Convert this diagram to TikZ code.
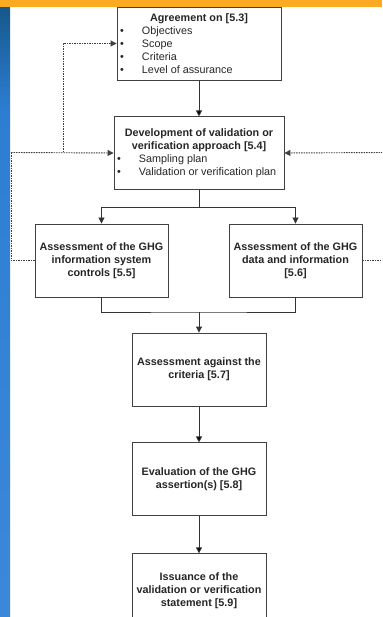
\documentclass[tikz,border=0pt]{standalone}
\usepackage{fontspec}
\setmainfont{Liberation Sans}
\usetikzlibrary{arrows.meta,positioning}

\definecolor{barorange}{RGB}{251,170,34}
\definecolor{stripdark}{RGB}{22,88,140}
\definecolor{stripmid}{RGB}{45,126,210}
\definecolor{striplight}{RGB}{60,136,216}

\newcommand{\bul}[1]{\makebox[22pt][l]{\textbullet}#1}

\tikzset{
    stage/.style={draw=black!75, line width=0.9pt, fill=white, text=black!85,
        font=\fontsize{10.8}{13}\selectfont\bfseries, align=center,
        inner sep=2pt, minimum height=73pt, minimum width=134pt},
    listbox/.style={draw=black!75, line width=0.9pt, fill=white, text=black!85,
        font=\fontsize{10.8}{13}\selectfont, inner sep=0pt, minimum height=73pt},
    flow/.style={draw=black!80, line width=0.9pt},
    feedback/.style={draw=black!75, line width=0.9pt, dash pattern=on 1.5pt off 1pt},
}

\begin{document}
\begin{tikzpicture}[x=1pt, y=-1pt, >={Triangle[length=6pt,width=6pt]}]
    \useasboundingbox (0,0) rectangle (382,617);
    \clip (0,0) rectangle (382,617);

    % Background bars
    \fill[white] (0,0) rectangle (382,617);
    \fill[barorange] (0,0) rectangle (382,7.5);
    \shade[top color=stripdark, bottom color=stripmid] (0,8) rectangle (10,110);
    \shade[top color=stripmid, bottom color=striplight] (0,110) rectangle (10,617);

    % Nodes {agree, develop, ctrl, data, crit, evalu, issue}
    \node [listbox, minimum width=164pt] (agree) at (199,43.5)
        {\begin{minipage}{158pt}{\centering\bfseries Agreement on [5.3]\par}
        \bul{Objectives}\par \bul{Scope}\par \bul{Criteria}\par \bul{Level of assurance}\par
        \end{minipage}};
    \node [listbox, minimum width=170pt, below=36pt of agree] (develop)
        {\begin{minipage}{164pt}{\centering\bfseries Development of validation or\\
        verification approach [5.4]\par}
        \bul{Sampling plan}\par \bul{Validation or verification plan}\par
        \end{minipage}};
    \node [stage, minimum width=133pt] (ctrl) at (101.5,260.5)
        {Assessment of the GHG\\information system\\controls [5.5]};
    \node [stage, minimum width=133pt] (data) at (295.5,260.5)
        {Assessment of the GHG\\data and information\\{[5.6]}};
    \node [stage] (crit) at (199,369.5) {Assessment against the\\criteria [5.7]};
    \node [stage, below=36pt of crit] (evalu) {Evaluation of the GHG\\assertion(s) [5.8]};
    \node [stage, below=37pt of evalu] (issue)
        {Issuance of the\\validation or verification\\statement [5.9]};

    % Junctions
    \coordinate (split) at (199,207);
    \coordinate (merge) at (199,312);
    \coordinate (lowL) at (11,260.5);
    \coordinate (upL) at (11,152.5);
    \coordinate (fork) at (63,152.5);
    \coordinate (lowR) at (385,260.5);
    \coordinate (upR) at (385,152.5);

    % Paths
    \path [flow, ->] (agree) edge (develop);
    \draw [flow] (develop) -- (split);
    \draw [flow, ->] (split) -| (ctrl);
    \draw [flow, ->] (split) -| (data);
    \draw [flow] (ctrl) |- (merge) -| (data);
    \draw [flow, ->] (merge) -- (crit);
    \path [flow, ->] (crit) edge (evalu)
                     (evalu) edge (issue);

    % Feedback loops
    \draw [feedback] (ctrl) -- (lowL) -- (upL);
    \draw [feedback, ->] (upL) -- (develop);
    \draw [feedback, ->] (fork) |- (agree);
    \draw [feedback] (data) -- (lowR) -- (upR);
    \draw [feedback, ->] (upR) -- (develop);
\end{tikzpicture}
\end{document}
